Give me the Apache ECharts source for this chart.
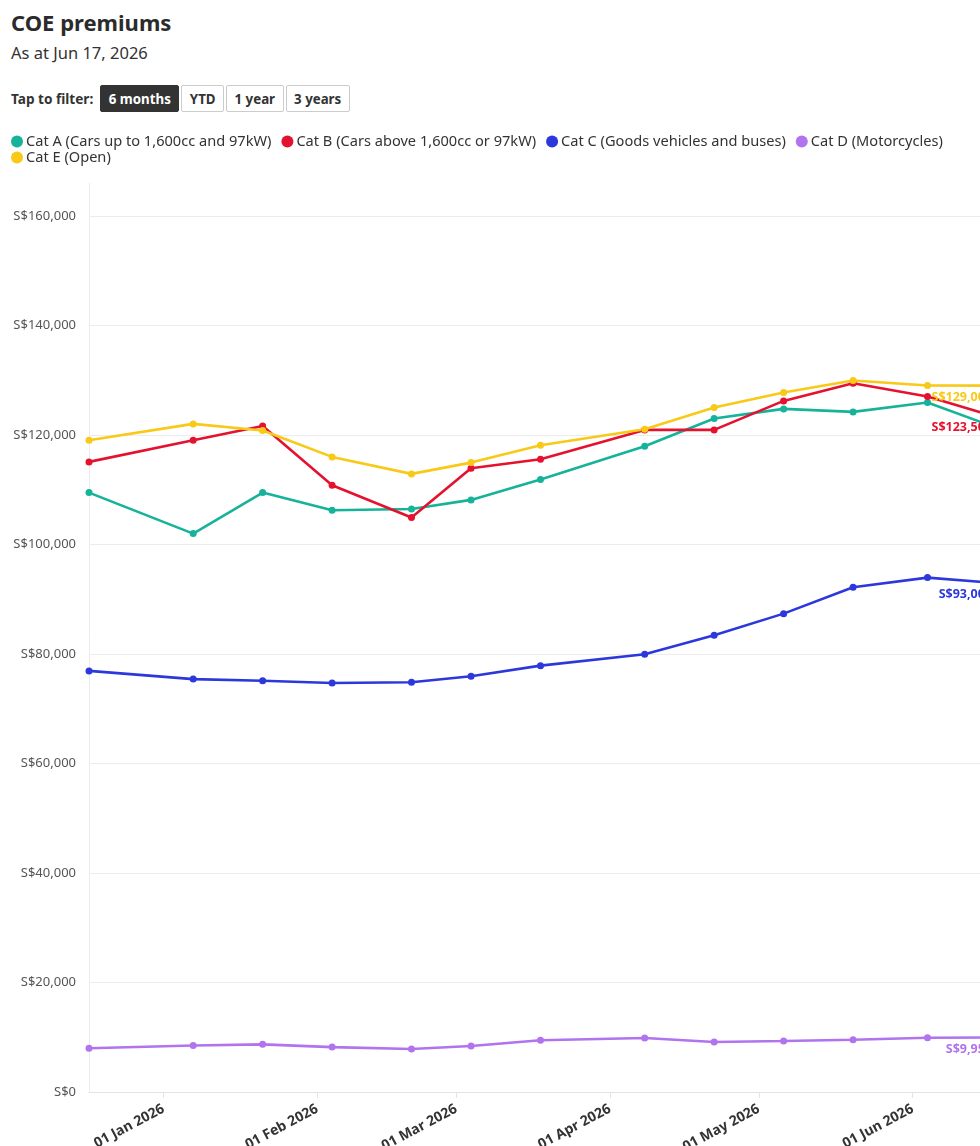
<!DOCTYPE html>
<html lang="en">
    <head>
        <meta charset="UTF-8" />
        <meta name="viewport" content="width=device-width, initial-scale=1.0" />
        <script type="text/javascript" src="https://cdn.jsdelivr.net/npm/echarts@6/dist/echarts.min.js"></script>
        <title>COE premiums</title>
        <style type="text/css">
            html,
            body {
                margin: 0;
                padding: 0;
                width: 980px;
                height: 1146px;
                overflow: hidden;
                background: #fff;
                font-family: "Noto Sans", sans-serif;
                color: #333;
            }
            h1 {
                position: absolute;
                left: 11px;
                top: 6px;
                margin: 0;
                font-size: 22px;
                font-weight: 700;
                line-height: 32px;
                color: #2b2b2b;
            }
            .sub {
                position: absolute;
                left: 11px;
                top: 42px;
                font-size: 16.5px;
                line-height: 22px;
                color: #333;
            }
            .filter {
                position: absolute;
                left: 11px;
                top: 85px;
                display: flex;
                align-items: center;
                font-size: 13.6px;
                font-weight: 700;
            }
            .filter span {
                margin-right: 7px;
            }
            .filter button {
                font-family: "Noto Sans", sans-serif;
                font-size: 13.3px;
                font-weight: 700;
                height: 27px;
                padding: 0 7.5px;
                margin-right: 2px;
                border: 1px solid #ccc;
                border-radius: 2px;
                background: #fff;
                color: #333;
            }
            .filter button.on {
                background: #333;
                border-color: #333;
                color: #fff;
            }
            #coe {
                position: absolute;
                left: 0;
                top: 125px;
                width: 1080px;
                height: 1060px;
            }
        </style>
    </head>

    <body>
        <h1>COE premiums</h1>
        <div class="sub">As at Jun 17, 2026</div>
        <div class="filter">
            <span>Tap to filter:</span>
            <button class="on">6 months</button>
            <button>YTD</button>
            <button>1 year</button>
            <button>3 years</button>
        </div>
        <div id="coe"></div>
        <script type="text/javascript">
            const dates = [
                "2025-12-17", "2026-01-07", "2026-01-21", "2026-02-04",
                "2026-02-20", "2026-03-04", "2026-03-18", "2026-04-08",
                "2026-04-22", "2026-05-06", "2026-05-20", "2026-06-04",
                "2026-06-17",
            ];
            const catA = [109460, 101970, 109460, 106250, 106480, 108130, 111840, 117940, 122980, 124750, 124200, 125900, 121600];
            const catB = [115070, 119030, 121640, 110810, 104900, 113920, 115560, 120910, 120910, 126210, 129440, 127000, 123500];
            const catC = [76900, 75400, 75100, 74700, 74830, 75930, 77860, 79950, 83420, 87360, 92180, 93940, 93000];
            const catD = [8000, 8500, 8700, 8200, 7850, 8400, 9450, 9860, 9130, 9300, 9550, 9900, 9950];
            const catE = [119030, 122010, 120790, 115980, 112880, 114940, 118120, 121040, 124990, 127730, 129920, 129010, 129000];

            const names = [
                "Cat A (Cars up to 1,600cc and 97kW)",
                "Cat B (Cars above 1,600cc or 97kW)",
                "Cat C (Goods vehicles and buses)",
                "Cat D (Motorcycles)",
                "Cat E (Open)",
            ];
            const colors = ["#16b39a", "#e5122f", "#2d38dc", "#b273ee", "#f8c916"];
            const months = ["Jan", "Feb", "Mar", "Apr", "May", "Jun", "Jul", "Aug", "Sep", "Oct", "Nov", "Dec"];
            const font = "Noto Sans";

            function toTime(s) {
                let p = s.split("-").map(Number);
                return new Date(p[0], p[1] - 1, p[2]).getTime();
            }

            function money(v) {
                return "S$" + v.toLocaleString("en-US");
            }

            function makeSeries(i, values, withLabel) {
                return {
                    name: names[i],
                    type: "line",
                    data: values.map((v, k) => [toTime(dates[k]), v]),
                    symbol: "circle",
                    symbolSize: 7,
                    showSymbol: true,
                    lineStyle: { width: 2.6, color: colors[i] },
                    itemStyle: { color: colors[i] },
                    emphasis: { disabled: true },
                    endLabel: {
                        show: withLabel,
                        formatter: (p) => money(p.value[1]),
                        color: colors[i],
                        fontFamily: font,
                        fontWeight: "bold",
                        fontSize: 12.5,
                        align: "right",
                        distance: 0,
                        offset: [0, 12],
                    },
                };
            }

            let chart = echarts.init(document.getElementById("coe"));

            const legendBase = {
                left: 11,
                padding: 0,
                icon: "circle",
                itemWidth: 12,
                itemHeight: 12,
                itemGap: 10,
                selectedMode: false,
                textStyle: { fontSize: 14.6, color: "#333", fontFamily: font, padding: [0, 0, 0, -2] },
            };

            chart.setOption({
                animation: false,
                color: colors,
                legend: [
                    Object.assign({ top: 9, data: names.slice(0, 4) }, legendBase),
                    Object.assign({ top: 25, data: names.slice(4) }, legendBase),
                ],
                grid: { left: 89, right: 88, top: 58, bottom: 93 },
                xAxis: {
                    type: "time",
                    min: toTime(dates[0]),
                    max: toTime(dates[dates.length - 1]),
                    splitNumber: 6,
                    axisLine: { lineStyle: { color: "#e3e3e3", width: 1 } },
                    axisTick: { show: true, length: 6, lineStyle: { color: "#e3e3e3" } },
                    splitLine: { show: false },
                    axisLabel: {
                        rotate: 28,
                        margin: 16,
                        fontFamily: font,
                        fontWeight: "bold",
                        fontSize: 14,
                        color: "#333",
                        hideOverlap: false,
                        formatter: function (v) {
                            let d = new Date(v);
                            let dd = String(d.getDate()).padStart(2, "0");
                            return dd + " " + months[d.getMonth()] + " " + d.getFullYear();
                        },
                    },
                },
                yAxis: {
                    type: "value",
                    min: 0,
                    max: 166000,
                    interval: 20000,
                    axisLine: { show: true, lineStyle: { color: "#ececec" } },
                    axisTick: { show: false },
                    splitLine: { showMaxLine: false, lineStyle: { color: "#ececec" } },
                    axisLabel: {
                        showMaxLabel: false,
                        margin: 13,
                        fontFamily: font,
                        fontSize: 13,
                        color: "#555",
                        formatter: (v) => money(v),
                    },
                },
                series: [
                    makeSeries(0, catA, false),
                    makeSeries(1, catB, true),
                    makeSeries(2, catC, true),
                    makeSeries(3, catD, true),
                    makeSeries(4, catE, true),
                ],
            });
        </script>
    </body>
</html>
